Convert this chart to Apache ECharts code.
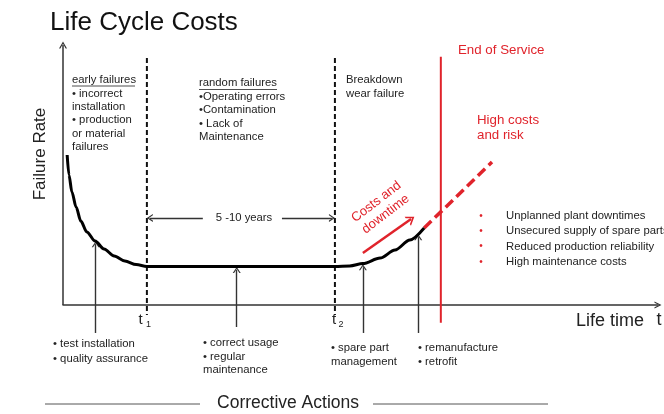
<!DOCTYPE html>
<html>
<head>
<meta charset="utf-8">
<script src="https://cdn.jsdelivr.net/npm/echarts@6/dist/echarts.min.js"></script>
<style>
html,body{margin:0;padding:0;background:#fff;}
#chart{width:664px;height:414px;}
</style>
</head>
<body>
<div id="chart"></div>
<script>
// ---- data (life time 0..100, failure rate 0..100) ----
const curveX = [0.7, 1.0, 1.5, 2.2, 3.0, 4.0, 5.4, 6.9, 8.6, 10.4, 12.3, 14.1, 45.7, 48.2, 50.4, 53.3, 55.8, 58.3, 60.7];
const curveY = [57.9, 50.2, 43.6, 37.8, 32.4, 28.2, 24.7, 21.6, 18.9, 17.0, 15.6, 14.9, 14.9, 15.1, 16.0, 18.1, 21.2, 25.1, 29.7];
const riskX = [60.7, 72.1];
const riskY = [29.7, 55.2];
const phaseX = [14.1, 45.7];          // t1, t2
const phaseY = [95.4, -3.9];          // top, bottom of dashed markers
const endServiceX = 63.5;
const endServiceY = [95.8, -6.9];
const actionX = [5.5, 29.2, 50.4, 59.7];
const actionBaseY = [-10.8, -8.5, -10.8, -10.8];
const actionTipY = [23.5, 13.5, 14.6, 26.2];
const spanY = 33.6;
const spanLeftX = [23.5, 14.6];
const spanRightX = [36.8, 45.2];
const trendX = [50.4, 58.5];
const trendY = [20.1, 33.2];
const yAxisTop = 100.4;

const earlyLines = ['early failures', '\u2022 incorrect', 'installation', '\u2022 production', 'or material', 'failures'];
const randomLines = ['random failures', '\u2022Operating errors', '\u2022Contamination', '\u2022 Lack of', 'Maintenance'];
const wearLines = ['Breakdown', 'wear failure'];
const riskItems = ['Unplanned plant downtimes', 'Unsecured supply of spare parts', 'Reduced production reliability', 'High maintenance costs'];
const actionTexts = [
  ['\u2022 test installation', '\u2022 quality assurance'],
  ['\u2022 correct usage', '\u2022 regular', 'maintenance'],
  ['\u2022 spare part', 'management'],
  ['\u2022 remanufacture', '\u2022 retrofit']
];

const FONT = '"Liberation Sans", Arial, Helvetica, sans-serif';
const RED = '#e0232b';
const DARK = '#222';
const CHEVRON = 'path://M0,10 L5,0 L10,10 L8.3,10 L5,3.4 L1.7,10 Z';

function T(text, x, y, size, opts) {
  opts = opts || {};
  return {
    type: 'text', x: x, y: y, rotation: opts.rotation || 0, silent: true, z: 50,
    style: {
      text: text,
      font: (opts.weight || 'normal') + ' ' + size + 'px ' + FONT,
      fill: opts.color || DARK,
      align: opts.align || 'left',
      verticalAlign: opts.va || 'middle',
      lineHeight: opts.lh || size * 1.2
    }
  };
}
function block(lines, x, firstY, size, lh, opts) {
  opts = Object.assign({}, opts || {}, { lh: lh, va: 'top' });
  return T(lines.join('\n'), x, firstY - lh / 2, size, opts);
}
function L(x1, y1, x2, y2, color, w) {
  return { type: 'line', silent: true, z: 50, shape: { x1: x1, y1: y1, x2: x2, y2: y2 }, style: { stroke: color, lineWidth: w } };
}
function ls(color, width) {
  return { color: color, width: width, type: 'solid' };
}

const markLines = [];
// y axis
markLines.push([{ coord: [0, 0], symbol: 'none', lineStyle: ls('#333', 1.5) }, { coord: [0, yAxisTop], symbol: CHEVRON, symbolSize: [8, 7] }]);
// corrective action arrows
actionX.forEach(function (x, i) {
  markLines.push([{ coord: [x, actionBaseY[i]], symbol: 'none', lineStyle: ls('#333', 1.4) }, { coord: [x, actionTipY[i]], symbol: CHEVRON, symbolSize: [8, 6] }]);
});
// 5-10 years span arrows
markLines.push([{ coord: [spanLeftX[0], spanY], symbol: 'none', lineStyle: ls('#333', 1.3) }, { coord: [spanLeftX[1], spanY], symbol: CHEVRON, symbolSize: [8, 6] }]);
markLines.push([{ coord: [spanRightX[0], spanY], symbol: 'none', lineStyle: ls('#333', 1.3) }, { coord: [spanRightX[1], spanY], symbol: CHEVRON, symbolSize: [8, 6] }]);
// red trend arrow
markLines.push([{ coord: [trendX[0], trendY[0]], symbol: 'none', lineStyle: ls(RED, 2.5) }, { coord: [trendX[1], trendY[1]], symbol: CHEVRON, symbolSize: [11, 8] }]);

const graphics = [];
graphics.push(T('Life Cycle Costs', 50, 23, 26, { color: '#111' }));
graphics.push(T('Failure Rate', 40, 154, 17, { align: 'center', rotation: Math.PI / 2 }));
graphics.push(block(earlyLines, 72, 80, 11.3, 13.4));
graphics.push(L(72, 86, 135, 86, DARK, 0.8));
graphics.push(block(randomLines, 199, 83, 11.3, 13.5));
graphics.push(L(199, 89.5, 277, 89.5, DARK, 0.8));
graphics.push(block(wearLines, 346, 80, 11.3, 13.5));
graphics.push(T('End of Service', 458, 50, 13.3, { color: RED }));
graphics.push(block(['High costs', 'and risk'], 477, 120, 13.3, 15, { color: RED }));
const costLabel = T('Costs and\ndowntime', 381, 208, 13, { color: RED, align: 'center', lh: 15.5, rotation: 37.5 * Math.PI / 180 });
graphics.push(costLabel);
riskItems.forEach(function (s, i) {
  graphics.push(T('\u2022', 481, 216 + i * 15.3, 10, { color: RED, align: 'center' }));
  graphics.push(T(s, 506, 216 + i * 15.3, 11.3));
});
graphics.push(T('5 -10 years', 244, 218, 11.3, { align: 'center' }));
graphics.push(T('t', 140.5, 320, 15, { align: 'center' }));
graphics.push(T('1', 148.5, 325, 9, { align: 'center' }));
graphics.push(T('t', 334, 320, 15, { align: 'center' }));
graphics.push(T('2', 341, 325, 9, { align: 'center' }));
graphics.push(T('Life time', 576, 321, 18));
graphics.push(T('t', 659, 320, 18, { align: 'center' }));
graphics.push(block(actionTexts[0], 53, 344, 11.3, 14.5));
graphics.push(block(actionTexts[1], 203, 343, 11.3, 13.5));
graphics.push(block(actionTexts[2], 331, 348, 11.3, 13.5));
graphics.push(block(actionTexts[3], 418, 348, 11.3, 13.5));
graphics.push(T('Corrective Actions', 288, 403, 17.5, { align: 'center' }));
graphics.push(L(45, 404, 200, 404, '#555', 1));
graphics.push(L(373, 404, 548, 404, '#555', 1));

const chart = echarts.init(document.getElementById('chart'), null, { renderer: 'canvas' });
chart.setOption({
  animation: false,
  backgroundColor: '#fff',
  grid: { left: 63, right: 6, top: 40.8, bottom: 57.2, containLabel: false },
  xAxis: {
    type: 'value', min: 0, max: 100,
    axisLine: { show: true, onZero: true, symbol: ['none', CHEVRON], symbolSize: [8, 7], lineStyle: { color: '#333', width: 1.5 } },
    axisTick: { show: false }, axisLabel: { show: false }, splitLine: { show: false }
  },
  yAxis: {
    type: 'value', min: -20, max: 102,
    axisLine: { show: false }, axisTick: { show: false }, axisLabel: { show: false }, splitLine: { show: false }
  },
  series: [
    {
      type: 'line', name: 'failure rate', clip: false, z: 5,
      data: curveX.map(function (x, i) { return [x, curveY[i]]; }),
      showSymbol: false, smooth: 0.3, smoothMonotone: 'x',
      lineStyle: { color: '#000', width: 3 },
      markLine: {
        silent: true, animation: false, precision: 4,
        label: { show: false }, emphasis: { disabled: true },
        lineStyle: { type: 'solid' },
        symbol: ['none', CHEVRON], symbolSize: [8, 6],
        data: markLines
      }
    },
    {
      type: 'line', name: 'risk', clip: false, z: 4,
      data: riskX.map(function (x, i) { return [x, riskY[i]]; }),
      showSymbol: false,
      lineStyle: { color: RED, width: 3.5, type: [10, 5] }
    },
    {
      type: 'line', name: 't1', clip: false, z: 3, showSymbol: false,
      data: phaseY.map(function (y) { return [phaseX[0], y]; }),
      lineStyle: { color: '#111', width: 2, type: [5, 3] }
    },
    {
      type: 'line', name: 't2', clip: false, z: 3, showSymbol: false,
      data: phaseY.map(function (y) { return [phaseX[1], y]; }),
      lineStyle: { color: '#111', width: 2, type: [5, 3] }
    },
    {
      type: 'line', name: 'end of service', clip: false, z: 3, showSymbol: false,
      data: endServiceY.map(function (y) { return [endServiceX, y]; }),
      lineStyle: { color: RED, width: 2 }
    }
  ],
  graphic: { elements: graphics }
});
</script>
</body>
</html>
